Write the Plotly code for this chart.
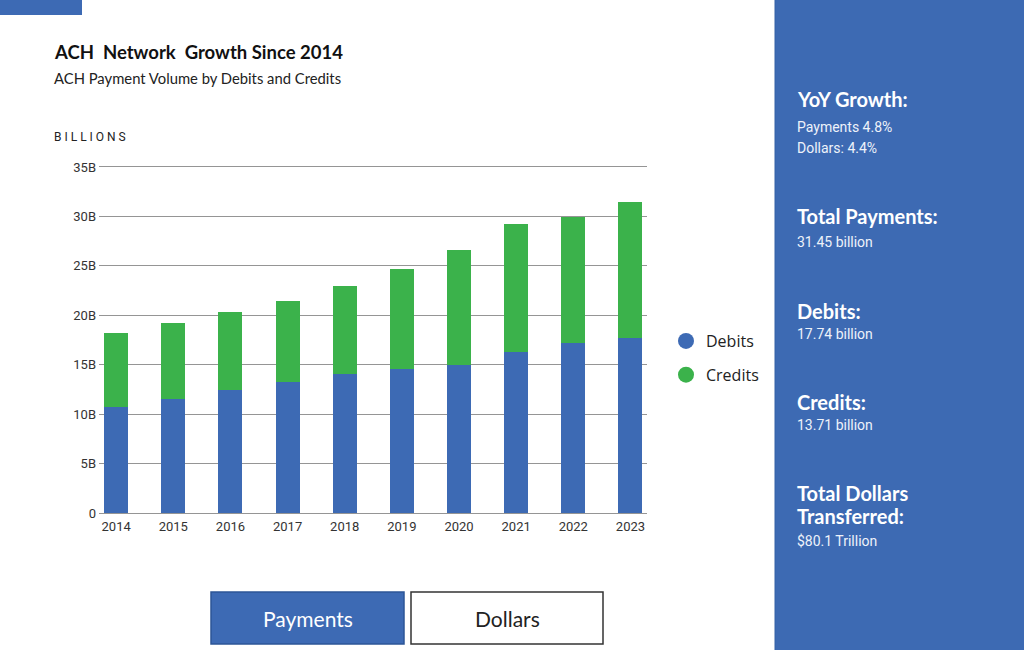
import plotly.graph_objects as go

W, H = 1024, 650

years = ["2014", "2015", "2016", "2017", "2018", "2019", "2020", "2021", "2022", "2023"]
debits = [10.7, 11.5, 12.4, 13.3, 14.1, 14.6, 15.0, 16.3, 17.2, 17.74]
credits = [7.5, 7.7, 7.9, 8.1, 8.9, 10.1, 11.6, 12.9, 12.7, 13.71]
ytick_vals = [0, 5, 10, 15, 20, 25, 30, 35]
ytick_text = ["0", "5B", "10B", "15B", "20B", "25B", "30B", "35B"]

BLUE = "#3d6ab4"
GREEN = "#3bb24b"
PANEL = "#3d6ab3"


def px(x):
    return x / W


def py(y):
    return 1 - y / H


fig = go.Figure()
fig.add_trace(go.Bar(x=years, y=debits, name="Debits", marker=dict(color=BLUE, line_width=0),
                     width=0.42, showlegend=False))
fig.add_trace(go.Bar(x=years, y=credits, name="Credits", marker=dict(color=GREEN, line_width=0),
                     width=0.42, showlegend=False))
# legend entries (circles)
fig.add_trace(go.Scatter(x=[None], y=[None], mode="markers", name="Debits", legendgroup="d",
                         marker=dict(color=BLUE, size=18, symbol="circle")))
fig.add_trace(go.Scatter(x=[None], y=[None], mode="markers", name="Credits", legendgroup="c",
                         marker=dict(color=GREEN, size=18, symbol="circle")))

shapes = [
    # top-left accent bar
    dict(type="rect", xref="paper", yref="paper", x0=px(0), x1=px(82), y0=py(15), y1=py(0),
         fillcolor=BLUE, line_width=0, layer="above"),
    # right panel
    dict(type="rect", xref="paper", yref="paper", x0=px(775), x1=px(1030), y0=py(660), y1=py(-10),
         fillcolor=PANEL, line=dict(color="#3560a6", width=1), layer="below"),
    # buttons
    dict(type="rect", xref="paper", yref="paper", x0=px(211), x1=px(404), y0=py(644), y1=py(592),
         fillcolor=BLUE, line=dict(color="#2d5596", width=1.5), layer="above"),
    dict(type="rect", xref="paper", yref="paper", x0=px(411), x1=px(603), y0=py(644), y1=py(592),
         fillcolor="white", line=dict(color="#333333", width=1.5), layer="above"),
]

annotations = []


def txt(text, x, y, size, color="#111111", family="Lato", bold=False, xanchor="left"):
    annotations.append(dict(
        text=f"<b>{text}</b>" if bold else text, x=px(x), y=py(y), xref="paper", yref="paper",
        xanchor=xanchor, yanchor="middle", showarrow=False,
        font=dict(size=size, color=color, family=family)))


txt("ACH  Network  Growth Since 2014", 52, 52, 18.5, "#111111", "Lato", bold=True)
txt("ACH Payment Volume by Debits and Credits", 52, 78, 14.8, "#222222", "Lato")
txt("B I L L I O N S", 52, 137, 12, "#222222", "Roboto")

# right panel texts
txt("YoY Growth:", 795, 99, 20, "white", "Lato", bold=True)
txt("Payments 4.8%", 795, 127, 14, "#eef2fa", "Roboto")
txt("Dollars: 4.4%", 795, 148, 14, "#eef2fa", "Roboto")
txt("Total Payments:", 795, 216, 20, "white", "Lato", bold=True)
txt("31.45 billion", 795, 242, 14, "#eef2fa", "Roboto")
txt("Debits:", 795, 311, 20, "white", "Lato", bold=True)
txt("17.74 billion", 795, 334, 14, "#eef2fa", "Roboto")
txt("Credits:", 795, 402, 20, "white", "Lato", bold=True)
txt("13.71 billion", 795, 425, 14, "#eef2fa", "Roboto")
txt("Total Dollars", 795, 493, 20, "white", "Lato", bold=True)
txt("Transferred:", 795, 516, 20, "white", "Lato", bold=True)
txt("$80.1 Trillion", 795, 541, 14, "#eef2fa", "Roboto")

# buttons
txt("Payments", 308, 618, 21, "white", "Lato", xanchor="center")
txt("Dollars", 507, 618, 21, "#222222", "Lato", xanchor="center")

fig.update_layout(
    width=W, height=H, autosize=False,
    margin=dict(l=0, r=0, t=0, b=0, pad=0, autoexpand=False),
    paper_bgcolor="white", plot_bgcolor="white",
    barmode="stack",
    shapes=shapes, annotations=annotations,
    xaxis=dict(domain=[px(99), px(647)], range=[-0.3, 9.29], showgrid=False, zeroline=False,
               showline=False, ticks="", ticklabelstandoff=2, automargin=False,
               tickfont=dict(size=13, color="#333333", family="Roboto"), fixedrange=True),
    yaxis=dict(domain=[py(515), py(165)], range=[-0.2, 35.2], tickvals=ytick_vals,
               ticktext=ytick_text, showgrid=True, gridcolor="#959595", gridwidth=1,
               zeroline=False, showline=False, ticks="", ticklabelstandoff=2, automargin=False,
               tickfont=dict(size=13, color="#333333", family="Roboto"), fixedrange=True),
    legend=dict(x=px(666), y=py(324), xanchor="left", yanchor="top", traceorder="grouped",
                tracegroupgap=10, font=dict(size=16, color="#222222", family="Open Sans"),
                bgcolor="rgba(0,0,0,0)", itemsizing="trace"),
    showlegend=True,
)

fig.write_html(
    "out.html",
    config={"displayModeBar": False},
    post_script="document.body.style.margin='0';document.body.style.overflow='hidden';",
)
